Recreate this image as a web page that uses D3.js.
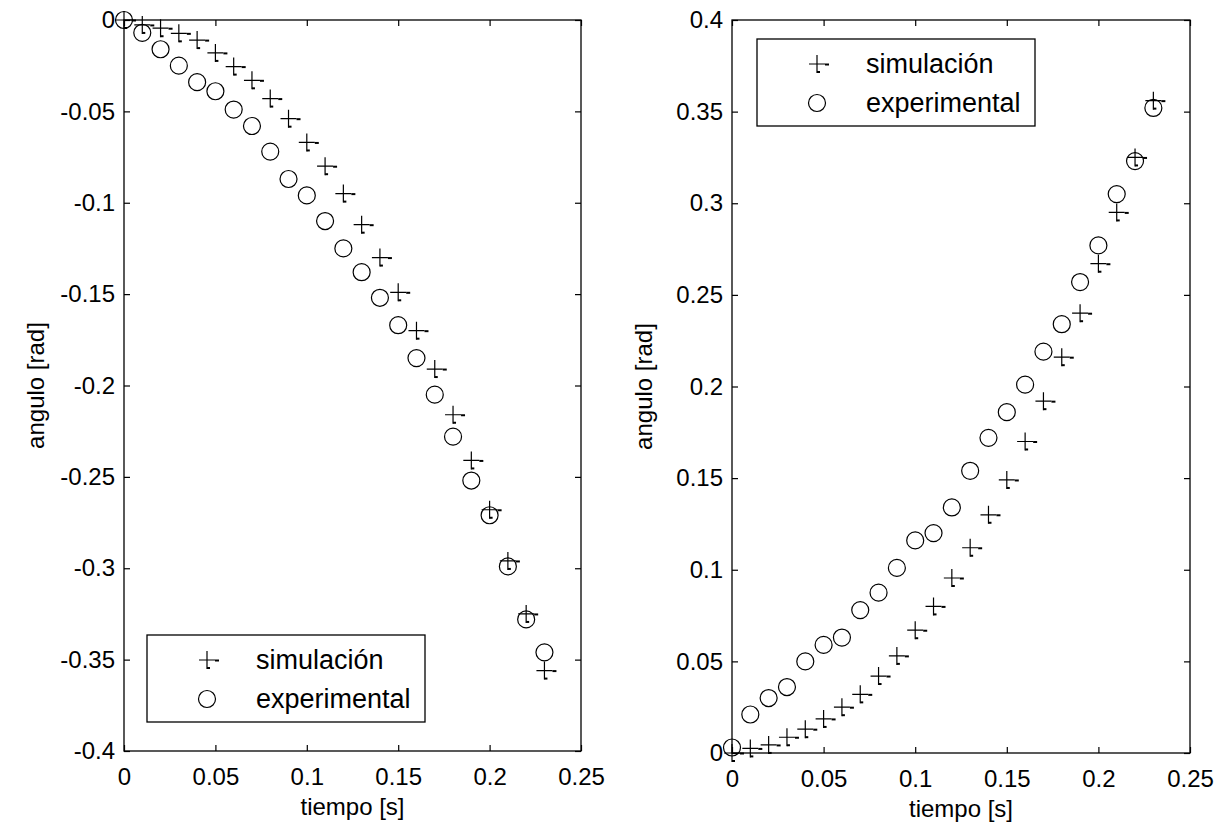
<!DOCTYPE html>
<html>
<head>
<meta charset="utf-8">
<script src="https://cdn.jsdelivr.net/npm/d3@7"></script>
<style>
  html, body { margin: 0; padding: 0; background: #fff; }
  svg { display: block; font-family: "Liberation Sans", Arial, sans-serif; }
  .tick text { font-size: 24px; fill: #000; }
  .lbl { font-size: 24px; fill: #000; }
  .leg { font-size: 27px; fill: #000; }
</style>
</head>
<body>
<svg id="chart" width="1228" height="833"></svg>
<script>
// tiempo [s] de cada muestra
const tiempo = [0, 0.01, 0.02, 0.03, 0.04, 0.05, 0.06, 0.07, 0.08, 0.09, 0.10, 0.11,
                0.12, 0.13, 0.14, 0.15, 0.16, 0.17, 0.18, 0.19, 0.20, 0.21, 0.22, 0.23];

// panel izquierdo
const simIzq = [0, -0.0027, -0.0045, -0.0073, -0.011, -0.018, -0.0255, -0.033, -0.043, -0.054, -0.067, -0.080,
                -0.095, -0.112, -0.130, -0.149, -0.170, -0.191, -0.216, -0.241, -0.268, -0.296, -0.325, -0.356];
const expIzq = [0, -0.007, -0.016, -0.025, -0.034, -0.039, -0.049, -0.058, -0.072, -0.087, -0.096, -0.110,
                -0.125, -0.138, -0.152, -0.167, -0.185, -0.205, -0.228, -0.252, -0.271, -0.299, -0.328, -0.346];

// panel derecho
const simDer = [0, 0.0025, 0.0044, 0.0086, 0.013, 0.0186, 0.025, 0.032, 0.042, 0.053, 0.067, 0.080,
                0.0955, 0.112, 0.130, 0.149, 0.170, 0.192, 0.216, 0.240, 0.267, 0.295, 0.325, 0.356];
const expDer = [0.003, 0.021, 0.030, 0.036, 0.050, 0.059, 0.063, 0.078, 0.0875, 0.101, 0.116, 0.120,
                0.134, 0.154, 0.172, 0.186, 0.201, 0.219, 0.234, 0.257, 0.277, 0.305, 0.323, 0.352];

const xTicks = [0, 0.05, 0.1, 0.15, 0.2, 0.25];
const yTicksIzq = [0, -0.05, -0.1, -0.15, -0.2, -0.25, -0.3, -0.35, -0.4];
const yTicksDer = [0, 0.05, 0.1, 0.15, 0.2, 0.25, 0.3, 0.35, 0.4];
const leyenda = ['simulación', 'experimental'];

const svg = d3.select('#chart');

// '+' con los restos de pixel que deja el export de matlab
const plusPath = 'M-8,0H8 M0,-9V9';

function drawPanel (p) {
  let x = d3.scaleLinear().domain([0, 0.25]).range([p.left, p.right]),
      y = d3.scaleLinear().domain(p.yDomain).range([p.bottom, p.top]),
      g = svg.append('g');

  let fmt = d => d === 0 ? '0' : String(+d.toFixed(2));

  let axB = g.append('g').attr('transform', `translate(0,${p.bottom})`)
    .call(d3.axisBottom(x).tickValues(xTicks).tickFormat(fmt).tickSizeInner(-6).tickSizeOuter(0).tickPadding(17));
  let axT = g.append('g').attr('transform', `translate(0,${p.top})`)
    .call(d3.axisTop(x).tickValues(xTicks).tickFormat('').tickSizeInner(-6).tickSizeOuter(0));
  let axL = g.append('g').attr('transform', `translate(${p.left},0)`)
    .call(d3.axisLeft(y).tickValues(p.yTicks).tickFormat(fmt).tickSizeInner(-6).tickSizeOuter(0).tickPadding(9));
  let axR = g.append('g').attr('transform', `translate(${p.right},0)`)
    .call(d3.axisRight(y).tickValues(p.yTicks).tickFormat('').tickSizeInner(-6).tickSizeOuter(0));

  [axB, axT, axL, axR].forEach(a => {
    a.select('.domain').remove();
    a.selectAll('.tick line').attr('stroke', '#000').attr('stroke-width', 1.2);
    a.attr('font-family', null).attr('font-size', null);
  });

  g.append('rect')
    .attr('x', p.left).attr('y', p.top)
    .attr('width', p.right - p.left).attr('height', p.bottom - p.top)
    .attr('fill', 'none').attr('stroke', '#000').attr('stroke-width', 1.3);

  // etiquetas de ejes
  g.append('text').attr('class', 'lbl')
    .attr('x', (p.left + p.right) / 2).attr('y', p.bottom + 64)
    .attr('text-anchor', 'middle')
    .text('tiempo [s]');
  g.append('text').attr('class', 'lbl')
    .attr('transform', `translate(${p.left - 80},${(p.top + p.bottom) / 2}) rotate(-90)`)
    .attr('text-anchor', 'middle')
    .text('angulo [rad]');

  let pts = g.append('g').attr('fill', 'none').attr('stroke', '#000').attr('stroke-width', 1.2);

  pts.selectAll('.sim')
    .data(tiempo.map((t, i) => [t, p.sim[i]]))
    .enter().append('g')
      .attr('class', 'sim')
      .attr('transform', d => `translate(${x(d[0])},${y(d[1])})`)
      .call(drawPlus);

  pts.selectAll('.exp')
    .data(tiempo.map((t, i) => [t, p.exp[i]]))
    .enter().append('circle')
      .attr('class', 'exp')
      .attr('cx', d => x(d[0]))
      .attr('cy', d => y(d[1]))
      .attr('r', 8.5);

  // leyenda
  let lg = g.append('g').attr('transform', `translate(${p.legend[0]},${p.legend[1]})`);
  lg.append('rect')
    .attr('width', 278).attr('height', 87)
    .attr('fill', '#fff').attr('stroke', '#000').attr('stroke-width', 1.3);
  let rows = lg.selectAll('.row')
    .data(leyenda)
    .enter().append('g')
      .attr('class', 'row')
      .attr('transform', (d, i) => `translate(0,${i === 0 ? 25 : 64})`);
  rows.filter((d, i) => i === 0).append('g')
    .attr('transform', 'translate(60,0)')
    .attr('fill', 'none').attr('stroke', '#000').attr('stroke-width', 1.2)
    .call(drawPlus);
  rows.filter((d, i) => i === 1).append('circle')
    .attr('cx', 60).attr('r', 8.5)
    .attr('fill', 'none').attr('stroke', '#000').attr('stroke-width', 1.2);
  rows.append('text').attr('class', 'leg')
    .attr('x', 109).attr('dy', '0.35em')
    .text(d => d);
}

function drawPlus (sel) {
  sel.append('path').attr('d', plusPath);
  sel.append('path').attr('d', 'M8,0.5H12').attr('stroke-width', 2);
  sel.append('path').attr('d', 'M0,8H3').attr('stroke-width', 2);
}

drawPanel({
  left: 124, right: 581, top: 20, bottom: 751,
  yDomain: [-0.4, 0], yTicks: yTicksIzq,
  sim: simIzq, exp: expIzq,
  legend: [147, 635]
});

drawPanel({
  left: 732, right: 1190, top: 20, bottom: 753,
  yDomain: [0, 0.4], yTicks: yTicksDer,
  sim: simDer, exp: expDer,
  legend: [757, 39]
});
</script>
</body>
</html>
